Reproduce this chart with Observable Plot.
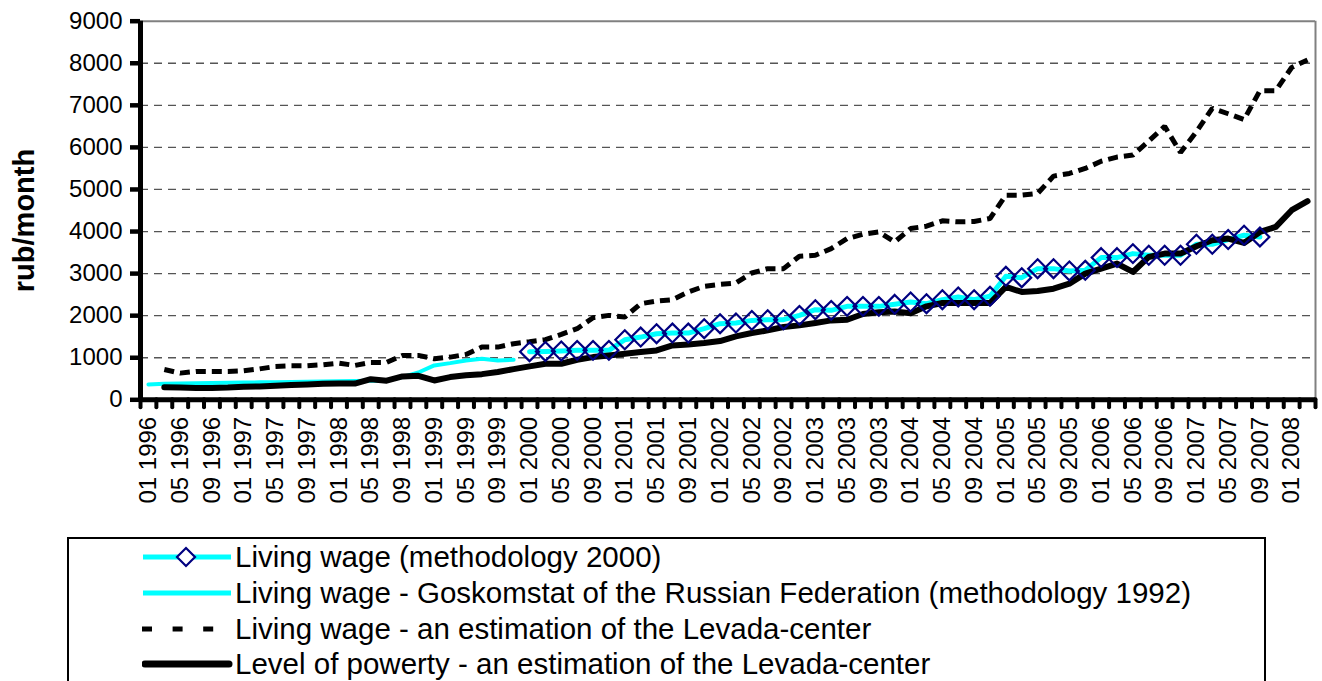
<!DOCTYPE html>
<html><head><meta charset="utf-8">
<script src="https://cdn.jsdelivr.net/npm/d3@7"></script>
<script src="https://cdn.jsdelivr.net/npm/@observablehq/plot@0.6"></script>
<style>
html,body{margin:0;padding:0;background:#fff;overflow:hidden;width:1322px;height:681px;}
#chart{position:absolute;left:0;top:0;}
#legend{position:absolute;left:67px;top:537px;width:1195px;height:170px;border:2px solid #000;background:#fff;
  font-family:"Liberation Sans",Arial,sans-serif;font-size:29.5px;color:#000;}
.row{position:absolute;left:0;height:36px;width:100%;}
.row svg{position:absolute;left:73px;top:0;}
.row span{position:absolute;left:166px;top:0;line-height:36px;white-space:nowrap;}
</style></head><body>
<div id="chart"></div>
<div id="legend"></div>
<script>
// ---- categories (two-month steps) ----
const categories = [
 "01 1996","03 1996","05 1996","07 1996","09 1996","11 1996",
 "01 1997","03 1997","05 1997","07 1997","09 1997","11 1997",
 "01 1998","03 1998","05 1998","07 1998","09 1998","11 1998",
 "01 1999","03 1999","05 1999","07 1999","09 1999","11 1999",
 "01 2000","03 2000","05 2000","07 2000","09 2000","11 2000",
 "01 2001","03 2001","05 2001","07 2001","09 2001","11 2001",
 "01 2002","03 2002","05 2002","07 2002","09 2002","11 2002",
 "01 2003","03 2003","05 2003","07 2003","09 2003","11 2003",
 "01 2004","03 2004","05 2004","07 2004","09 2004","11 2004",
 "01 2005","03 2005","05 2005","07 2005","09 2005","11 2005",
 "01 2006","03 2006","05 2006","07 2006","09 2006","11 2006",
 "01 2007","03 2007","05 2007","07 2007","09 2007","11 2007",
 "01 2008","03 2008"
];
const xTickLabels = [
 "01 1996","05 1996","09 1996","01 1997","05 1997","09 1997","01 1998","05 1998","09 1998",
 "01 1999","05 1999","09 1999","01 2000","05 2000","09 2000","01 2001","05 2001","09 2001",
 "01 2002","05 2002","09 2002","01 2003","05 2003","09 2003","01 2004","05 2004","09 2004",
 "01 2005","05 2005","09 2005","01 2006","05 2006","09 2006","01 2007","05 2007","09 2007","01 2008"
];
const yTicks = [0,1000,2000,3000,4000,5000,6000,7000,8000,9000];
const gridValues = [1000,2000,3000,4000,5000,6000,7000,8000];

// ---- series ----
const wage2000Start = "01 2000";
const wage2000 = [1143,1150,1160,1175,1175,1175,1428,1491,1571,1587,1587,1690,
  1809,1825,1888,1904,1904,2007,2142,2126,2221,2221,2221,2269,
  2325,2285,2380,2444,2380,2460,2936,2904,3118,3118,3063,3078,
  3380,3380,3475,3436,3436,3436,3698,3698,3809,3912,3872];

const wage1992Start = "01 1996";
const wage1992 = [364,380,390,395,400,405,410,415,420,425,430,435,
  440,445,450,455,540,650,817,872,936,975,936,952];

const levadaStart = "03 1996";
const levada = [721,634,674,674,674,690,735,793,809,809,833,
  872,817,888,888,1055,1055,976,1015,1079,1253,1253,1333,
  1380,1428,1555,1690,1952,2007,1968,2285,2348,2380,2563,2698,
  2745,2777,3015,3118,3118,3412,3436,3594,3832,3936,3991,3753,
  4071,4127,4254,4230,4238,4310,4865,4865,4905,5317,5380,5500,
  5670,5770,5817,6150,6500,5880,6372,6929,6800,6660,7349,7349,
  7900,8080];

const povertyStart = "03 1996";
const poverty = [300,290,280,280,290,310,315,335,350,365,380,
  385,385,490,455,555,570,460,540,585,610,660,730,
  795,857,857,952,1015,1055,1095,1134,1174,1293,1317,1349,
  1396,1507,1587,1650,1730,1769,1825,1888,1904,2040,2080,2100,
  2060,2222,2301,2301,2301,2301,2682,2563,2587,2642,2761,2999,
  3118,3237,3039,3396,3475,3475,3650,3793,3832,3729,3991,4110,
  4507,4722];

const legendLabels = [
  "Living wage (methodology 2000)",
  "Living wage - Goskomstat of the Russian Federation (methodology 1992)",
  "Living wage - an estimation of the Levada-center",
  "Level of powerty - an estimation of the Levada-center"
];

// ---- build ----
const rows = (vals, start) => vals.map((v, k) => ({i: categories.indexOf(start) + k, v}));
const r2000 = rows(wage2000, wage2000Start);
const r1992 = rows(wage1992, wage1992Start);
const rLev = rows(levada, levadaStart);
const rPov = rows(poverty, povertyStart);
const n = categories.length;
const font = '"Liberation Sans", Arial, sans-serif';

const chart = Plot.plot({
  width: 1322, height: 538,
  marginLeft: 140, marginRight: 7, marginTop: 20.7, marginBottom: 138.7,
  style: {fontFamily: font, fontSize: "24px", color: "#000", background: "#fff", overflow: "visible"},
  x: {type: "linear", domain: [-0.5, n - 0.5]},
  y: {type: "linear", domain: [0, 9000]},
  marks: [
    Plot.ruleY(gridValues, {stroke: "#555", strokeWidth: 1.3, strokeDasharray: "8,6"}),
    Plot.ruleY([9000], {stroke: "#808080", strokeWidth: 2}),
    Plot.ruleX([n - 0.5], {stroke: "#808080", strokeWidth: 2}),
    Plot.line(r1992, {x: "i", y: "v", stroke: "#00FFFF", strokeWidth: 4, strokeLinejoin: "round"}),
    Plot.line(r2000, {x: "i", y: "v", stroke: "#00FFFF", strokeWidth: 5, strokeLinejoin: "round"}),
    Plot.line(rLev, {x: "i", y: "v", stroke: "#000", strokeWidth: 5, strokeDasharray: "10,6", strokeLinecap: "butt", strokeLinejoin: "miter"}),
    Plot.line(rPov, {x: "i", y: "v", stroke: "#000", strokeWidth: 6, strokeLinejoin: "round", strokeLinecap: "round"}),
    Plot.dot(r2000, {x: "i", y: "v", symbol: "diamond2", r: 8.5, stroke: "#000080", strokeWidth: 2.2, fill: "none"}),
    Plot.ruleY([0], {stroke: "#000", strokeWidth: 5}),
    Plot.ruleX([-0.5], {stroke: "#000", strokeWidth: 5}),
    Plot.axisX({ticks: d3.range(n + 1).map(k => k - 0.5), tickSize: 8, tickFormat: () => "", stroke: "#000", strokeWidth: 4, strokeLinecap: "round", label: null}),
    Plot.axisX({ticks: xTickLabels.map(l => categories.indexOf(l)), tickSize: 0, tickPadding: 17, tickRotate: -90, tickFormat: i => categories[i], fontSize: 24, label: null}),
    Plot.axisY({ticks: yTicks, tickSize: 10, tickPadding: 8, stroke: "#000", strokeWidth: 4.5, fontSize: 24, tickFormat: d => String(d), label: null}),
    Plot.text(["rub/month"], {frameAnchor: "left", textAnchor: "middle", rotate: -90, dx: -116, dy: 10, fontSize: 29, fontWeight: "bold", fill: "#000"})
  ]
});
document.getElementById("chart").appendChild(chart);

// ---- legend ----
const swatches = [
  `<line x1="1" x2="89" y1="18" y2="18" stroke="#00FFFF" stroke-width="5"/>
   <path d="M44,9 L53,18 L44,27 L35,18 Z" fill="#fff" stroke="#000080" stroke-width="2.2"/>`,
  `<line x1="1" x2="89" y1="18" y2="18" stroke="#00FFFF" stroke-width="5"/>`,
  `<line x1="0" x2="72" y1="18" y2="18" stroke="#000" stroke-width="5" stroke-dasharray="10,20.6"/>`,
  `<line x1="3" x2="87" y1="18" y2="18" stroke="#000" stroke-width="7" stroke-linecap="round"/>`
];
const rowTops = [0, 35.5, 72, 106.5];
const leg = d3.select("#legend");
legendLabels.forEach((lab, k) => {
  const row = leg.append("div").attr("class", "row").style("top", rowTops[k] + "px");
  row.append("svg").attr("width", 92).attr("height", 36).html(swatches[k]);
  row.append("span").text(lab);
});
</script></body></html>
